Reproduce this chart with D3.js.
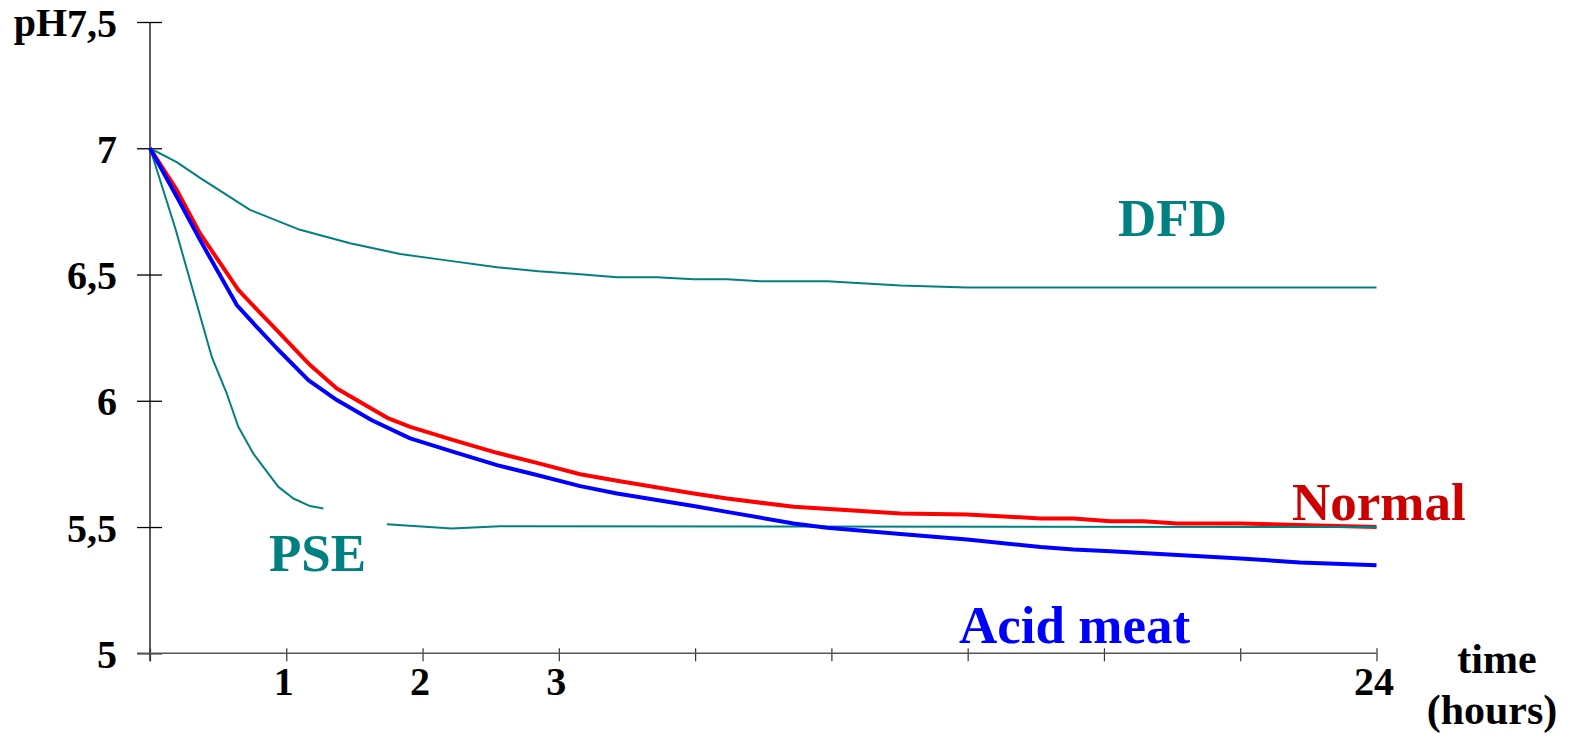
<!DOCTYPE html>
<html>
<head>
<meta charset="utf-8">
<script src="https://cdn.jsdelivr.net/npm/d3@7"></script>
<style>
  html, body { margin: 0; padding: 0; background: #fff; }
  svg { display: block; }
  text { font-family: "Liberation Serif", "Times New Roman", serif; font-weight: bold; }
</style>
</head>
<body>
<svg id="chart" width="1592" height="739"></svg>
<script>
// ---- data (x in axis units: tick index 0..9; ticks 1,2,3 hours ... 24 hours) ----
const xTickValues = [0, 1, 2, 3, 4, 5, 6, 7, 8, 9];
const xTickLabels = ["", "1", "2", "3", "", "", "", "", "", "24"];
const yTickValues = [5, 5.5, 6, 6.5, 7, 7.5];
const yTickLabels = ["5", "5,5", "6", "6,5", "7", "7,5"];

const timeNormal = [0, 0.196, 0.367, 0.648, 0.808, 0.93, 1.162, 1.371, 1.75, 1.909, 2.227, 2.546, 2.839, 3.157, 3.427, 3.989, 4.234, 4.723, 5.507, 5.996, 6.535, 6.777, 7.048, 7.291, 7.538, 8.003, 9.0];
const phNormal   = [7.0, 6.835, 6.663, 6.439, 6.348, 6.28, 6.148, 6.049, 5.93, 5.897, 5.844, 5.794, 5.754, 5.709, 5.683, 5.633, 5.613, 5.58, 5.554, 5.55, 5.534, 5.534, 5.523, 5.523, 5.514, 5.514, 5.5];

const timeAcid = [0, 0.196, 0.367, 0.637, 0.783, 0.93, 1.162, 1.371, 1.628, 1.909, 2.227, 2.546, 2.839, 3.157, 3.427, 3.989, 4.234, 4.723, 4.968, 5.507, 5.996, 6.535, 6.777, 7.048, 8.003, 8.44, 9.0];
const phAcid   = [7.0, 6.809, 6.637, 6.379, 6.293, 6.208, 6.082, 6.003, 5.923, 5.851, 5.798, 5.745, 5.706, 5.662, 5.633, 5.583, 5.56, 5.514, 5.497, 5.472, 5.451, 5.421, 5.411, 5.404, 5.375, 5.36, 5.349];

const timeDFD = [0, 0.196, 0.367, 0.734, 1.101, 1.468, 1.836, 2.203, 2.546, 2.851, 3.157, 3.427, 3.72, 3.989, 4.234, 4.479, 4.968, 5.507, 5.996, 9.0];
const phDFD   = [7.0, 6.945, 6.883, 6.756, 6.677, 6.624, 6.581, 6.554, 6.529, 6.513, 6.501, 6.489, 6.489, 6.481, 6.481, 6.473, 6.473, 6.457, 6.449, 6.449];

// null marks the gap hidden behind the "PSE" label box
const timePSE = [0, 0.184, 0.453, 0.563, 0.648, 0.758, 0.942, 1.052, 1.175, 1.272, 1.5, 1.738, 2.215, 2.57, 9.0];
const phPSE   = [7.0, 6.686, 6.174, 6.029, 5.897, 5.791, 5.659, 5.613, 5.583, 5.573, null, 5.511, 5.494, 5.503, 5.5];

const seriesNames  = ["Normal", "Acid meat", "DFD", "PSE"];
const seriesColors = ["#ff0000", "#0000ff", "#008080", "#008080"];
const labelColors  = ["#cc0000", "#0000ff", "#008080", "#008080"];

// ---- drawing ----
const svg = d3.select("#chart");
const x = d3.scaleLinear().domain([0, 9]).range([150, 1376.5]);
const y = d3.scaleLinear().domain([5, 7.5]).range([653.3, 22]);

svg.append("rect").attr("width", 1592).attr("height", 739).attr("fill", "#fff");

// Y axis
const yAxis = svg.append("g").attr("transform", `translate(${x(0)},0)`)
  .call(d3.axisLeft(y).tickValues(yTickValues).tickFormat((d, i) => yTickLabels[i]).tickSizeOuter(0));
yAxis.select(".domain").remove();
yAxis.selectAll(".tick line").attr("x1", -13).attr("x2", 12).attr("stroke", "#000").attr("stroke-width", 1.3);
yAxis.selectAll(".tick text").attr("x", -33).attr("dy", 0).attr("y", 14)
  .attr("font-size", 40).attr("fill", "#000").attr("font-family", null);
yAxis.append("line").attr("x1", 0).attr("x2", 0).attr("y1", y(7.5)).attr("y2", y(5) + 8)
  .attr("stroke", "#000").attr("stroke-width", 1.3);

// X axis
const xAxis = svg.append("g").attr("transform", `translate(0,${y(5)})`)
  .call(d3.axisBottom(x).tickValues(xTickValues).tickFormat((d, i) => xTickLabels[i]).tickSizeOuter(0));
xAxis.select(".domain").remove();
xAxis.append("line").attr("x1", x(0) - 13).attr("x2", x(9)).attr("y1", 0).attr("y2", 0)
  .attr("stroke", "#555").attr("stroke-width", 1.5);
xAxis.selectAll(".tick line").attr("y1", -5).attr("y2", 8).attr("stroke", "#333").attr("stroke-width", 1.2);
xAxis.selectAll(".tick text").attr("y", 42).attr("dy", 0).attr("dx", -3)
  .attr("font-size", 40).attr("fill", "#000").attr("font-family", null);

// "pH" before the top tick label
const topLabel = yAxis.selectAll(".tick text").filter(d => d === 7.5).node();
const topW = topLabel.getComputedTextLength();
svg.append("text").attr("x", x(0) - 33 - topW).attr("y", y(7.5) + 14)
  .attr("text-anchor", "end").attr("font-size", 40).attr("fill", "#000").text("pH");

// Lines
const line = d3.line()
  .defined(d => d[1] !== null)
  .x(d => x(d[0])).y(d => y(d[1]));

const series = [
  { t: timeNormal, v: phNormal, w: 4 },
  { t: timeAcid, v: phAcid, w: 4 },
  { t: timeDFD, v: phDFD, w: 2 },
  { t: timePSE, v: phPSE, w: 2 }
];
const drawOrder = [0, 2, 3, 1];
drawOrder.forEach(i => {
  const s = series[i];
  svg.append("path")
    .datum(s.t.map((t, k) => [t, s.v[k]]))
    .attr("d", line)
    .attr("fill", "none")
    .attr("stroke", seriesColors[i])
    .attr("stroke-width", s.w)
    .attr("stroke-linejoin", "round");
});

// Series labels
const labelPos = [[1292, 520], [959, 643], [1118, 236], [269, 571]];
seriesNames.forEach((name, i) => {
  svg.append("text").attr("x", labelPos[i][0]).attr("y", labelPos[i][1])
    .attr("font-size", 53).attr("fill", labelColors[i]).text(name);
});

// X axis title
svg.append("text").attr("x", 1497).attr("y", 673).attr("text-anchor", "middle")
  .attr("font-size", 42).attr("fill", "#000").text("time");
svg.append("text").attr("x", 1492).attr("y", 724).attr("text-anchor", "middle")
  .attr("font-size", 42).attr("fill", "#000").text("(hours)");
</script>
</body>
</html>
